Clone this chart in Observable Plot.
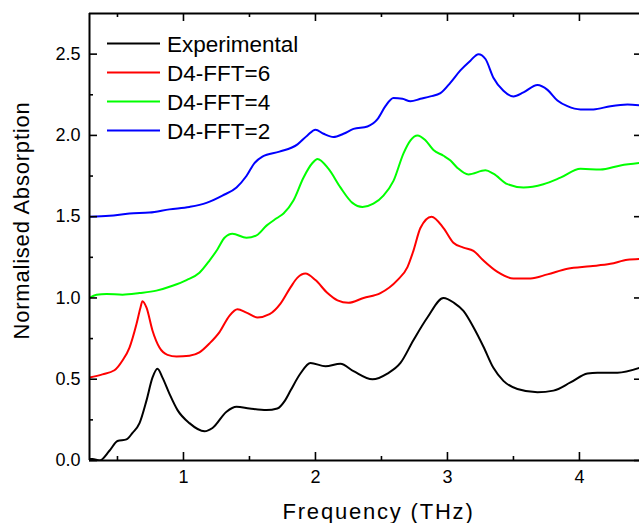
<!DOCTYPE html>
<html>
<head>
<meta charset="utf-8">
<script src="https://cdn.jsdelivr.net/npm/d3@7"></script>
<script src="https://cdn.jsdelivr.net/npm/@observablehq/plot@0.6"></script>
<style>
  html, body { margin: 0; padding: 0; background: #fff; }
  #chart svg { display: block; }
</style>
</head>
<body>
<div id="chart"></div>
<script>
// ---- data ----
const seriesNames = ["Experimental", "D4-FFT=6", "D4-FFT=4", "D4-FFT=2"];
const seriesColors = ["#000000", "#ff0000", "#00ff00", "#0000ff"];

const expX = [0.288,0.311,0.364,0.439,0.5,0.568,0.614,0.667,0.72,0.765,0.803,0.841,0.894,0.955,1.045,1.159,1.22,1.326,1.402,1.5,1.629,1.711,1.77,1.811,1.886,1.962,2.076,2.189,2.288,2.432,2.545,2.644,2.742,2.848,2.97,3.05,3.121,3.197,3.273,3.348,3.424,3.53,3.682,3.803,3.932,4.061,4.136,4.288,4.455];
const expY = [0.01,0.01,0.0,0.06,0.12,0.13,0.17,0.23,0.37,0.51,0.565,0.51,0.41,0.31,0.23,0.18,0.20,0.30,0.33,0.32,0.31,0.32,0.37,0.43,0.535,0.60,0.58,0.595,0.55,0.50,0.535,0.60,0.74,0.88,1.00,0.97,0.92,0.82,0.70,0.57,0.49,0.44,0.42,0.43,0.48,0.535,0.54,0.54,0.57];

const fft6X = [0.288,0.386,0.477,0.538,0.591,0.644,0.674,0.689,0.72,0.765,0.818,0.879,0.947,1.045,1.121,1.197,1.273,1.348,1.409,1.477,1.561,1.652,1.735,1.811,1.864,1.924,2.0,2.091,2.167,2.25,2.364,2.492,2.621,2.697,2.742,2.795,2.879,2.97,3.045,3.121,3.197,3.273,3.379,3.5,3.629,3.758,3.909,4.083,4.235,4.364,4.455];
const fft6Y = [0.51,0.53,0.555,0.615,0.695,0.84,0.94,0.98,0.94,0.80,0.695,0.65,0.64,0.645,0.665,0.72,0.79,0.89,0.93,0.91,0.88,0.90,0.965,1.065,1.125,1.15,1.11,1.03,0.985,0.97,1.0,1.03,1.11,1.19,1.29,1.43,1.50,1.43,1.34,1.31,1.29,1.23,1.16,1.12,1.12,1.145,1.18,1.195,1.21,1.235,1.24];

const fft4X = [0.288,0.341,0.417,0.538,0.667,0.795,0.917,1.023,1.121,1.197,1.258,1.311,1.371,1.477,1.553,1.629,1.705,1.758,1.833,1.909,1.977,2.015,2.098,2.189,2.28,2.356,2.439,2.515,2.591,2.667,2.72,2.773,2.833,2.894,2.97,3.023,3.076,3.159,3.288,3.348,3.455,3.576,3.727,3.856,4.008,4.159,4.311,4.455];
const fft4Y = [1.0,1.02,1.025,1.02,1.03,1.045,1.075,1.11,1.155,1.23,1.30,1.37,1.395,1.37,1.385,1.445,1.49,1.52,1.60,1.74,1.83,1.855,1.795,1.68,1.585,1.56,1.58,1.63,1.72,1.89,1.97,2.0,1.97,1.91,1.875,1.845,1.80,1.76,1.785,1.765,1.70,1.68,1.70,1.74,1.795,1.79,1.815,1.83];

const fft2X = [0.288,0.439,0.591,0.742,0.894,1.045,1.174,1.295,1.402,1.477,1.538,1.598,1.727,1.864,1.939,2.0,2.061,2.136,2.212,2.288,2.394,2.47,2.53,2.591,2.659,2.72,2.795,2.871,2.947,3.023,3.098,3.174,3.235,3.288,3.348,3.424,3.5,3.576,3.682,3.758,3.833,3.909,4.008,4.106,4.235,4.364,4.455];
const fft2Y = [1.50,1.505,1.52,1.525,1.545,1.56,1.585,1.63,1.68,1.75,1.83,1.87,1.90,1.945,2.0,2.035,2.01,1.99,2.01,2.04,2.055,2.10,2.18,2.23,2.225,2.21,2.225,2.24,2.26,2.325,2.40,2.46,2.50,2.47,2.355,2.275,2.24,2.265,2.31,2.28,2.215,2.18,2.16,2.16,2.18,2.19,2.185];

const xMajorTicks = [1, 2, 3, 4];
const xMinorTicks = [0.5, 1.5, 2.5, 3.5];
const yMajorTicks = [0, 0.5, 1.0, 1.5, 2.0, 2.5];
const yMinorTicks = [0.25, 0.75, 1.25, 1.75, 2.25];
const xDomain = [0.288, 4.455];
const yDomain = [0, 2.75];
const xTitle = "Frequency (THz)";
const yTitle = "Normalised Absorption";

// ---- build table ----
const allX = [expX, fft6X, fft4X, fft2X];
const allY = [expY, fft6Y, fft4Y, fft2Y];
const rows = [];
seriesNames.forEach((name, i) => {
  allX[i].forEach((x, j) => rows.push({series: name, x, y: allY[i][j]}));
});

const W = 639, H = 523;
const mL = 89, mR = 0, mT = 13, mB = 63;
const innerW = W - mL - mR, innerH = H - mT - mB;
const font = "'Liberation Sans', Arial, Helvetica, sans-serif";

const chart = Plot.plot({
  width: W, height: H,
  marginLeft: mL, marginRight: mR, marginTop: mT, marginBottom: mB,
  style: {fontFamily: font, fontSize: "18px", color: "#000", background: "#fff"},
  x: {domain: xDomain, ticks: xMajorTicks, tickFormat: d => String(d), tickSize: 0, tickPadding: 10, label: null},
  y: {domain: yDomain, ticks: yMajorTicks, tickFormat: d3.format(".1f"), tickSize: 0, tickPadding: 9, label: null},
  color: {domain: seriesNames, range: seriesColors},
  marks: [
    Plot.lineY(rows, {x: "x", y: "y", z: "series", stroke: "series", strokeWidth: 2, curve: "monotone-x", clip: true}),
    // frame (left, top, bottom)
    Plot.ruleX([xDomain[0]], {stroke: "#000", strokeWidth: 2}),
    Plot.ruleY([yDomain[0]], {stroke: "#000", strokeWidth: 2}),
    Plot.ruleY([yDomain[1]], {stroke: "#000", strokeWidth: 2}),
    // inward ticks
    Plot.tickX(xMajorTicks, {x: d => d, insetTop: innerH - 8, strokeWidth: 1.6}),
    Plot.tickX(xMinorTicks, {x: d => d, insetTop: innerH - 4, strokeWidth: 1.6}),
    Plot.tickX(xMajorTicks, {x: d => d, insetBottom: innerH - 8, strokeWidth: 1.6}),
    Plot.tickX(xMinorTicks, {x: d => d, insetBottom: innerH - 4, strokeWidth: 1.6}),
    Plot.tickY(yMajorTicks, {y: d => d, insetRight: innerW - 8, strokeWidth: 1.6}),
    Plot.tickY(yMinorTicks, {y: d => d, insetRight: innerW - 4, strokeWidth: 1.6}),
    Plot.tickY(yMajorTicks, {y: d => d, insetLeft: innerW - 5, strokeWidth: 1.6}),
    // axis titles
    Plot.text([xTitle], {frameAnchor: "bottom", dx: 14, dy: 51, fontSize: 22, textAnchor: "middle", lineAnchor: "middle"}),
    Plot.text([yTitle], {frameAnchor: "left", dx: -68, dy: -16.5, rotate: -90, fontSize: 22, textAnchor: "middle", lineAnchor: "middle"})
  ]
});

const svg = d3.select(chart);
svg.selectAll("text").filter(function () { return this.textContent === xTitle; })
  .style("letter-spacing", "1.8px");
svg.selectAll("text").filter(function () { return this.textContent === yTitle; })
  .style("letter-spacing", "0.8px");

// legend drawn into the same SVG
const lg = svg.append("g").style("font-family", font).style("font-size", "22.5px");
seriesNames.forEach((name, i) => {
  const yy = 43.5 + i * 29;
  lg.append("line").attr("x1", 107).attr("x2", 160).attr("y1", yy).attr("y2", yy)
    .attr("stroke", seriesColors[i]).attr("stroke-width", 2);
  lg.append("text").attr("x", 167).attr("y", yy + 8.3).attr("fill", "#000")
    .attr("text-anchor", "start").text(name);
});

document.getElementById("chart").appendChild(chart);
</script>
</body>
</html>
